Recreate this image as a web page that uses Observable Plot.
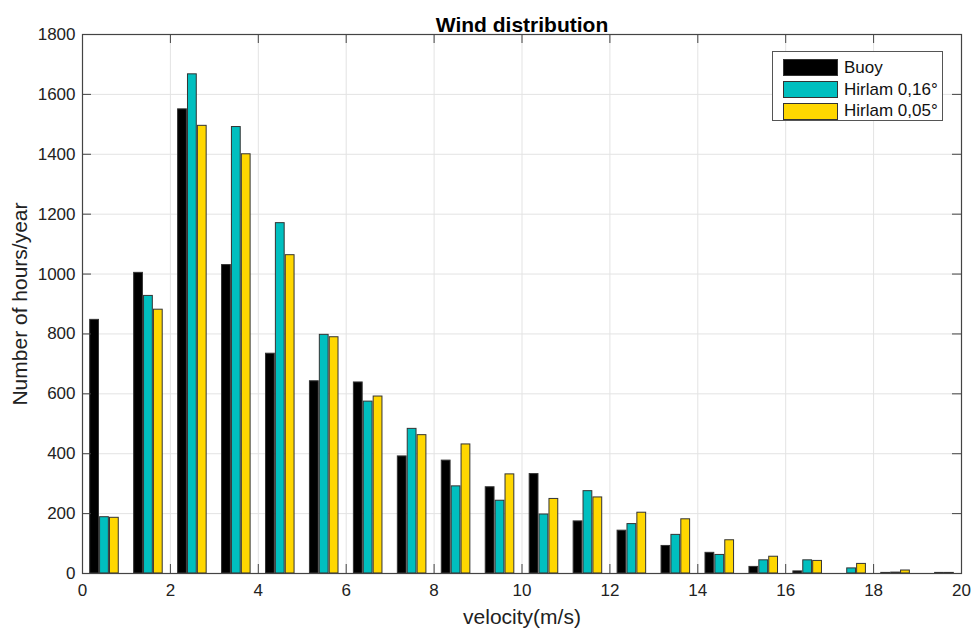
<!DOCTYPE html>
<html>
<head>
<meta charset="utf-8">
<script src="https://cdn.jsdelivr.net/npm/d3@7"></script>
<script src="https://cdn.jsdelivr.net/npm/@observablehq/plot@0.6"></script>
<style>
  body { margin: 0; background: #fff; font-family: "Liberation Sans", Arial, Helvetica, sans-serif; }
  #wrap { position: relative; width: 972px; height: 632px; }
  #legend { position: absolute; left: 772px; top: 51px; width: 171px; height: 70px; border: 1px solid #555;
            background: #fff; box-sizing: border-box; padding: 5px 0 0 10px; }
  .row { display: flex; align-items: center; height: 21.7px; }
  .sw { width: 53px; height: 15px; border: 1px solid #333; margin-right: 6px; }
  .lab { font-size: 17px; color: #111; white-space: nowrap; }
</style>
</head>
<body>
<div id="wrap"></div>
<script>
// velocity bins (m/s), lower edges
const binStart = [0, 1, 2, 3, 4, 5, 6, 7, 8, 9, 10, 11, 12, 13, 14, 15, 16, 17, 18, 19];
// hours/year per bin
const buoy      = [847, 1004, 1550, 1030, 734, 642, 638, 391, 377, 288, 332, 174, 143, 92, 69, 22, 7, 0, 2, 0];
const hirlam016 = [188, 927, 1667, 1491, 1170, 797, 574, 483, 291, 243, 197, 275, 165, 129, 62, 44, 44, 17, 3, 2];
const hirlam005 = [186, 881, 1495, 1400, 1063, 789, 591, 462, 431, 331, 249, 254, 203, 181, 111, 56, 42, 32, 10, 2];
const seriesNames = ["Buoy", "Hirlam 0,16°", "Hirlam 0,05°"];
const seriesColors = ["#000000", "#00bfbf", "#ffd700"];
const xTicks = [0, 2, 4, 6, 8, 10, 12, 14, 16, 18, 20];
const yTicks = [0, 200, 400, 600, 800, 1000, 1200, 1400, 1600, 1800];
const title = "Wind distribution";
const xLabel = "velocity(m/s)";
const yLabel = "Number of hours/year";

const seriesValues = [buoy, hirlam016, hirlam005];
const offsets = [-0.225, 0, 0.225];
const halfW = 0.1;
const rows = [];
seriesValues.forEach((vals, s) => {
  vals.forEach((v, i) => rows.push({bin: binStart[i], series: seriesNames[s], s, value: v}));
});

const W = 972, H = 632, mt = 34, mb = 59, ml = 82, mr = 11;
const innerW = W - ml - mr, innerH = H - mt - mb;
const font = '"Liberation Sans", Arial, Helvetica, sans-serif';

const chart = Plot.plot({
  width: W, height: H,
  marginTop: mt, marginBottom: mb, marginLeft: ml, marginRight: mr,
  style: {fontFamily: font, fontSize: "17px", color: "#262626", background: "#fff"},
  x: {domain: [0, 20]},
  y: {domain: [0, 1800]},
  color: {domain: seriesNames, range: seriesColors},
  marks: [
    Plot.gridX(xTicks, {stroke: "#e3e3e3", strokeOpacity: 1}),
    Plot.gridY(yTicks, {stroke: "#e3e3e3", strokeOpacity: 1}),
    Plot.rectY(rows, {
      x1: d => d.bin + 0.5 + offsets[d.s] - halfW,
      x2: d => d.bin + 0.5 + offsets[d.s] + halfW,
      y1: 0, y2: "value",
      fill: "series", stroke: "#333", strokeWidth: 1
    }),
    // inward tick marks, MATLAB-style box
    Plot.ruleX(xTicks, {stroke: "#444", insetTop: innerH - 9}),
    Plot.ruleX(xTicks, {stroke: "#444", insetBottom: innerH - 9}),
    Plot.ruleY(yTicks, {stroke: "#444", insetRight: innerW - 9}),
    Plot.ruleY(yTicks, {stroke: "#444", insetLeft: innerW - 9}),
    Plot.frame({stroke: "#444", strokeWidth: 1.2}),
    Plot.axisX(xTicks, {tickSize: 0, tickPadding: 10, fontSize: 17, tickFormat: "d", label: xLabel, labelAnchor: "center",
      labelArrow: "none", labelOffset: 50, fill: "#222"}),
    Plot.axisY(yTicks, {tickSize: 0, tickPadding: 7, fontSize: 17, tickFormat: "d", label: yLabel, labelAnchor: "center",
      labelArrow: "none", labelOffset: 70, fill: "#222"}),
    Plot.text([title], {frameAnchor: "top", dy: -17, fontWeight: "bold", fontSize: 21, fill: "#000"})
  ]
});
// enlarge axis label font
chart.querySelectorAll("g[aria-label='x-axis label'] text, g[aria-label='y-axis label'] text").forEach(t => t.setAttribute("font-size", "21"));
document.getElementById("wrap").appendChild(chart);

// legend
const lg = document.createElement("div");
lg.id = "legend";
seriesNames.forEach((n, i) => {
  const r = document.createElement("div"); r.className = "row";
  const sw = document.createElement("div"); sw.className = "sw"; sw.style.background = seriesColors[i];
  const lb = document.createElement("span"); lb.className = "lab"; lb.textContent = n;
  r.appendChild(sw); r.appendChild(lb); lg.appendChild(r);
});
document.getElementById("wrap").appendChild(lg);
</script>
</body>
</html>
